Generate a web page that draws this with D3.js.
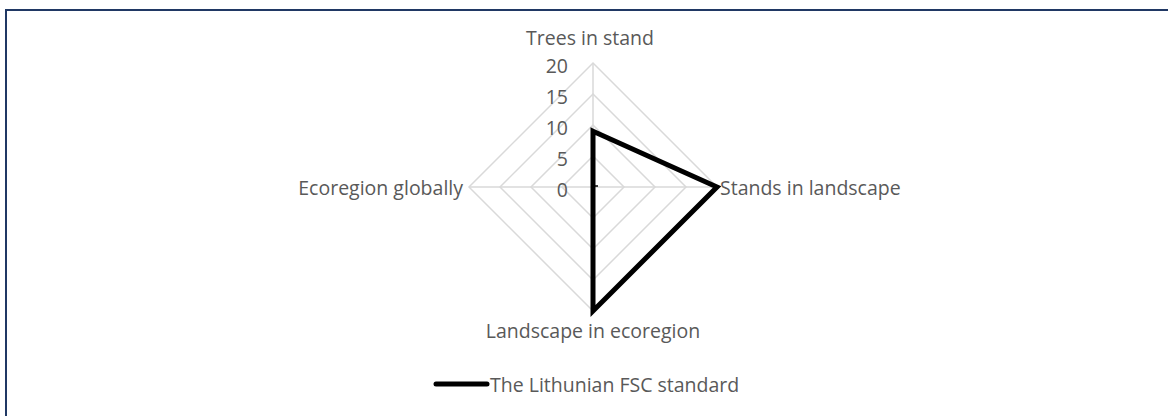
<!DOCTYPE html>
<html>
<head>
<meta charset="utf-8">
<script src="https://cdn.jsdelivr.net/npm/d3@7"></script>
<style>
  html, body { margin: 0; padding: 0; background: #fff; }
  svg { display: block; }
  text { font-family: "Open Sans", "Noto Sans", sans-serif; fill: #595959; }
</style>
</head>
<body>
<svg id="chart" width="1168" height="416"></svg>
<script>
const categories = ["Trees in stand", "Stands in landscape", "Landscape in ecoregion", "Ecoregion globally"];
const seriesName = "The Lithunian FSC standard";
const seriesValues = [9, 20, 20, 0];
const tickValues = [0, 5, 10, 15, 20];

const svg = d3.select("#chart");
const FS = 19.5;

// frame
svg.append("rect").attr("x", 6).attr("y", 10).attr("width", 1175).attr("height", 420)
  .attr("fill", "#fff").attr("stroke", "#203864").attr("stroke-width", 2);

const cx = 593, cy = 187, R = 124;
const r = d3.scaleLinear().domain([0, 20]).range([0, R]);
const angle = d3.scalePoint().domain(categories).range([0, 2 * Math.PI * 3 / 4]);
const pt = (cat, v) => {
  const a = angle(cat);
  return [cx + r(v) * Math.sin(a), cy - r(v) * Math.cos(a)];
};

// grid
const g = svg.append("g");
tickValues.filter(t => t > 0).forEach(t => {
  g.append("path")
    .attr("d", d3.line()(categories.map(c => pt(c, t))) + "Z")
    .attr("fill", "none").attr("stroke", "#d9d9d9").attr("stroke-width", 1.5);
});
categories.forEach(c => {
  const [x, y] = pt(c, 20);
  g.append("line").attr("x1", cx).attr("y1", cy).attr("x2", x).attr("y2", y)
    .attr("stroke", "#d9d9d9").attr("stroke-width", 1.5);
});

// tick labels along the first axis
tickValues.forEach(t => {
  const [x, y] = pt(categories[0], t);
  g.append("text").attr("x", x - 25).attr("y", y + 2).attr("text-anchor", "end")
    .attr("dominant-baseline", "central").attr("font-size", FS).text(t);
});
// small tick mark at 0
g.append("line").attr("x1", cx).attr("x2", cx + 5).attr("y1", cy - 1).attr("y2", cy - 1)
  .attr("stroke", "#000").attr("stroke-width", 1.5);

// series
svg.append("path")
  .attr("d", d3.line()(categories.map((c, i) => pt(c, seriesValues[i]))) + "Z")
  .attr("fill", "none").attr("stroke", "#000").attr("stroke-width", 5)
  .attr("stroke-linejoin", "miter");

// category labels
const lab = svg.append("g").attr("font-size", FS);
const outer = c => pt(c, 20);
{
  const [x, y] = outer(categories[0]);
  lab.append("text").attr("x", x - 3).attr("y", y - 18).attr("text-anchor", "middle").text(categories[0]);
  const [x1, y1] = outer(categories[1]);
  lab.append("text").attr("x", x1 + 3).attr("y", y1).attr("dominant-baseline", "central").text(categories[1]);
  const [x2, y2] = outer(categories[2]);
  lab.append("text").attr("x", x2).attr("y", y2 + 27).attr("text-anchor", "middle").text(categories[2]);
  const [x3, y3] = outer(categories[3]);
  lab.append("text").attr("x", x3 - 6).attr("y", y3).attr("text-anchor", "end").attr("dominant-baseline", "central").text(categories[3]);
}

// legend
const leg = svg.append("g");
leg.append("line").attr("x1", 436).attr("x2", 487).attr("y1", 384).attr("y2", 384)
  .attr("stroke", "#000").attr("stroke-width", 5).attr("stroke-linecap", "round");
leg.append("text").attr("x", 490).attr("y", 384).attr("dominant-baseline", "central")
  .attr("font-size", FS).text(seriesName);
</script>
</body>
</html>
